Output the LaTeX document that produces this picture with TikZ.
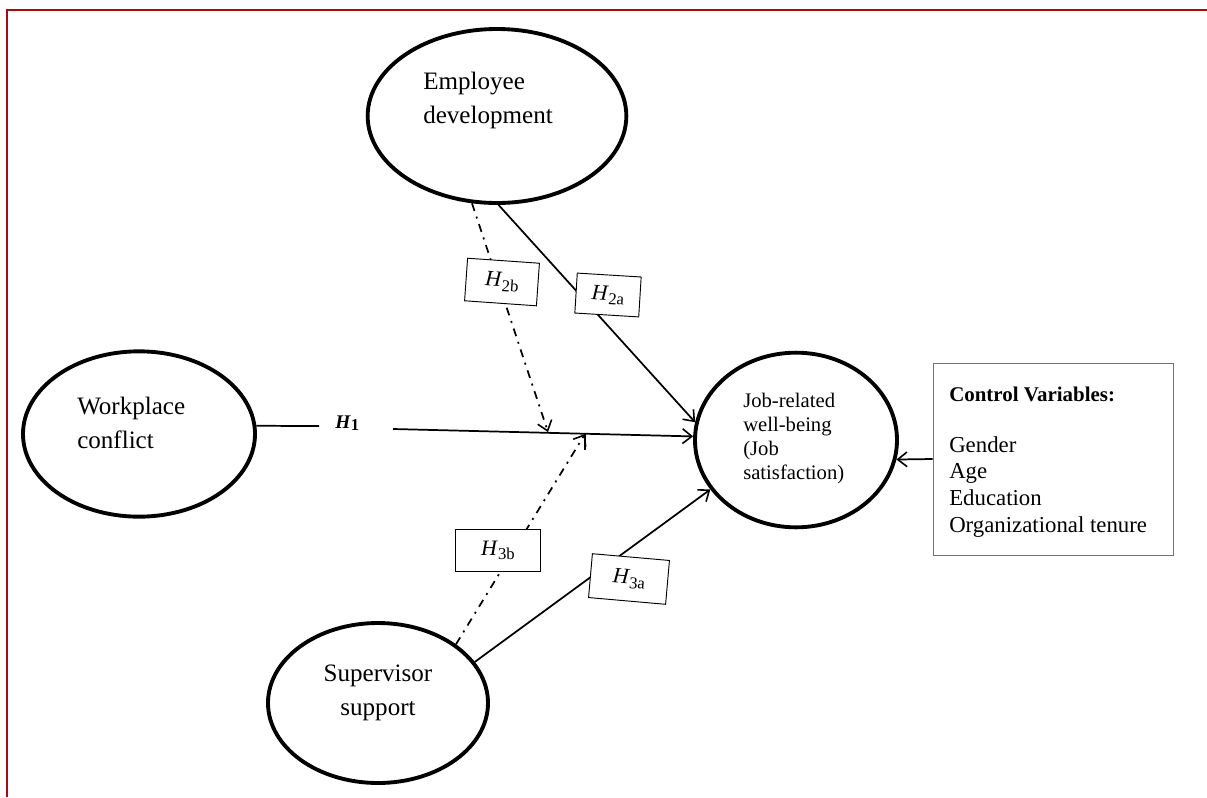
\documentclass[tikz,border=0pt]{standalone}
\usepackage{fontspec}
\setmainfont{Liberation Serif}
\usetikzlibrary{arrows.meta,positioning,shapes.geometric}
\definecolor{frameRed}{RGB}{165,12,12}
\newcommand{\hyp}[1]{\textit{H}\raisebox{-3pt}{\fontsize{12.5}{13}\selectfont #1}}

\begin{document}
\begin{tikzpicture}[x=0.75pt,y=-0.75pt,
  construct/.style={draw,ellipse,line width=2.9pt,inner sep=0pt},
  cname/.style={align=left,inner sep=0pt,font=\fontsize{18.8}{25}\selectfont},
  hbox/.style={draw,fill=white,line width=0.7pt,inner sep=0pt,font=\fontsize{16.5}{18}\selectfont},
  effect/.style={line width=1.3pt,-{Straight Barb[length=7pt,width=11pt,line width=1.2pt]}},
  moderate/.style={effect,dash pattern=on 6pt off 4.5pt on 1.5pt off 4.5pt}]
\useasboundingbox (0,0) rectangle (1207,797);
\draw[frameRed,line width=1.5pt] (7,797) -- (7,10) -- (1207,10);
\node[construct,minimum width=174pt,minimum height=124pt] (wc) at (139,434) {};
\node[construct,minimum width=194pt,minimum height=130.5pt] (ed) at (497,116) {};
\node[construct,minimum width=151.5pt,minimum height=131pt] (jw) at (796,440) {};
\node[construct,minimum width=165pt,minimum height=120pt] (ss) at (378,703) {};
\node[draw=black!55,line width=0.6pt,minimum width=180pt,minimum height=144pt] (cv) at (1053,459) {};
\node[cname,anchor=base west] (wct) at (77,448) {Workplace\\conflict};
\node[cname,anchor=base west] (edt) at (423,123) {Employee\\development};
\node[cname,align=center,anchor=base] (sst) at (378,715) {Supervisor\\support};
\node[align=left,inner sep=0pt,anchor=base west,font=\fontsize{15.5}{18}\selectfont] (jwt) at (743,479) {Job-related\\well-being\\(Job\\satisfaction)};
\node[align=left,inner sep=0pt,anchor=base west,font=\fontsize{17.1}{20}\selectfont] (cvt) at (949,532) {{\fontsize{15.7}{18}\selectfont\bfseries Control Variables:}\\[18pt]Gender\\Age\\Education\\Organizational tenure};
\node[inner sep=0pt,anchor=base west,font=\fontsize{14.5}{16}\selectfont] (h1) at (335,428) {\textbf{\textit{H}\raisebox{-1.5pt}{\fontsize{12.5}{13}\selectfont 1}}};
\coordinate (h1a) at (319,426);
\coordinate (h1b) at (393,429);
\coordinate (m2) at (548,432);
\coordinate (m3) at (585,434);
\coordinate (m3t) at (585,450);
\draw[line width=1.3pt] (wc.4) -- (h1a);
\draw[effect] (h1b) -- (jw.178);
\draw[effect] (ed.-89) -- (jw.170);
\draw[moderate] (ed.254) -- (m2);
\draw[moderate] (ss.37) -- (m3);
\draw[line width=1pt] (m3) -- (m3t);
\draw[effect] (ss.23) -- (jw.210);
\draw[effect] (cv.west) -- (jw.-11);
\node[hbox,rotate=-4,minimum width=54pt,minimum height=32pt] (h2b) at (502,282) {\hyp{2b}};
\node[hbox,rotate=-3.5,minimum width=48pt,minimum height=30pt] (h2a) at (608,295) {\hyp{2a}};
\node[hbox,minimum width=64pt,minimum height=31.5pt] (h3b) at (498,550) {\hyp{3b}};
\node[hbox,rotate=-5,minimum width=58pt,minimum height=33pt] (h3a) at (629,579) {\hyp{3a}};
\end{tikzpicture}
\end{document}
